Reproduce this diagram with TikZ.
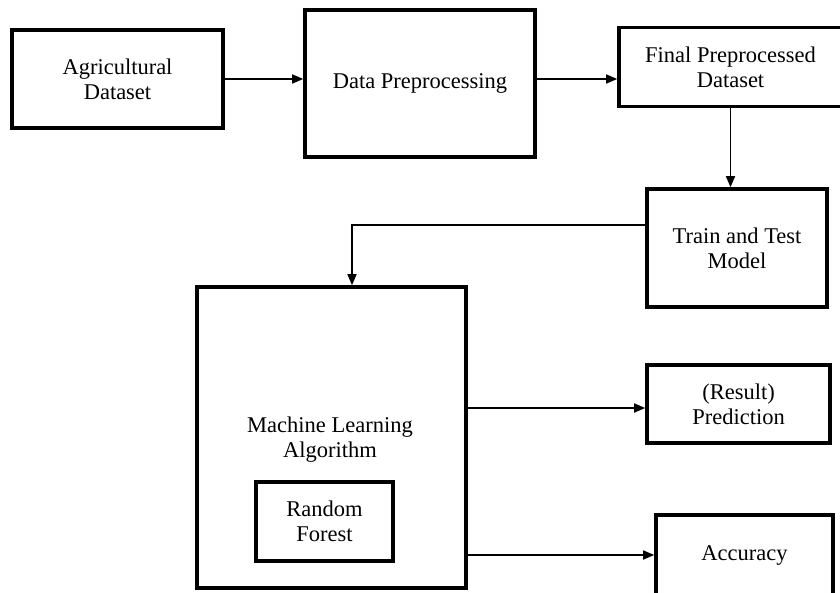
\documentclass[tikz,border=0pt]{standalone}
\usepackage{fontspec}
\setmainfont{Liberation Serif}
\usepackage{tikz}
\usetikzlibrary{arrows.meta}

\begin{document}
\begin{tikzpicture}[x=1pt, y=-1pt,
    font=\fontsize{22.5}{25}\selectfont,
    blockbox/.style={draw, line width=3.6pt, align=center, inner sep=0pt},
    flow/.style={line width=1.6pt, -{Triangle[length=11pt, width=9pt]}}]
    \useasboundingbox (0,0) rectangle (840,592);
    % Blocks of the pipeline
    \node[blockbox, minimum width=211pt, minimum height=98pt] (agri) at (117.5,79) {Agricultural\\Dataset};
    \node[blockbox, minimum width=230pt, minimum height=147pt] (prep) at (420,83.5) {Data Preprocessing};
    \node[blockbox, minimum width=223pt, minimum height=79pt] (final) at (730.5,67) {Final Preprocessed\\Dataset};
    \node[blockbox, minimum width=180pt, minimum height=118pt] (train) at (737,248) {Train and Test\\Model};
    \node[blockbox, minimum width=269pt, minimum height=301pt] (mla) at (331.5,437.5) {};
    \node[align=center] (mlatext) at (330,440) {Machine Learning\\Algorithm};
    \node[blockbox, minimum width=137pt, minimum height=79pt] (rf) at (324.5,521.5) {Random\\Forest};
    \node[blockbox, minimum width=183pt, minimum height=78pt] (pred) at (738.5,404) {(Result)\\Prediction};
    \node[blockbox, minimum width=177pt, minimum height=80pt] (acc) at (744.5,555) {Accuracy};

    % Connectors
    \draw[flow] (agri.east) -- (agri.east -| prep.west);
    \draw[flow] (prep.east |- agri.east) -- (final.west |- agri.east);
    \draw[flow] (final.south) -- (final.south |- train.north);
    \draw[flow] ([yshift=23pt]train.west) -| ([xshift=20.5pt]mla.north);
    \draw[flow] ([yshift=-4pt]mla.east |- pred.west) -- ([yshift=-4pt]pred.west);
    \draw[flow] (mla.east |- acc.west) -- (acc.west);
\end{tikzpicture}
\end{document}
